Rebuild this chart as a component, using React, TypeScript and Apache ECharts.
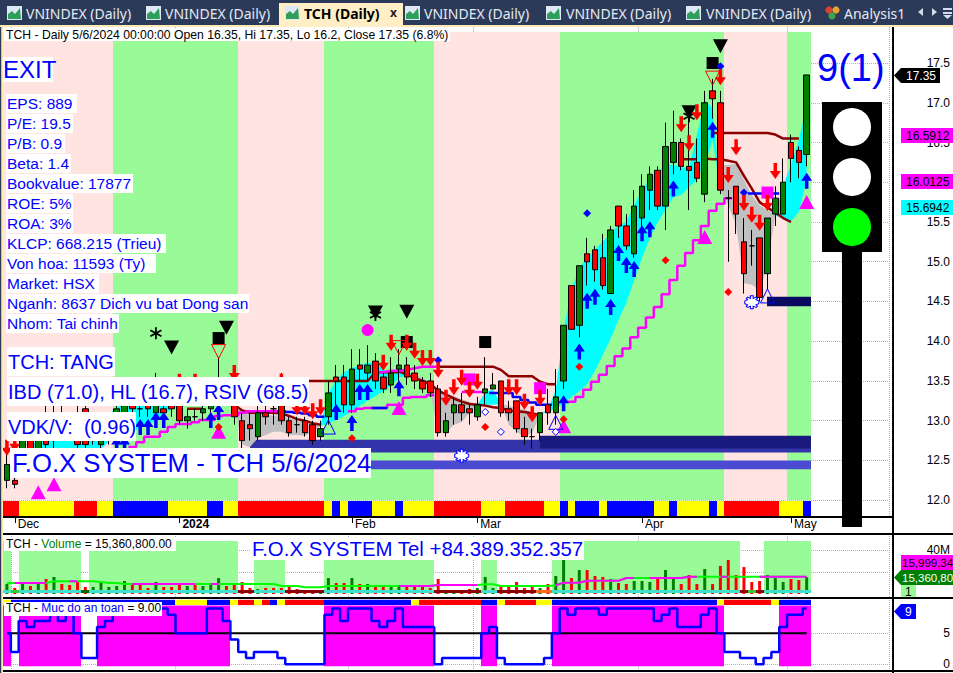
import React, { useEffect, useRef } from "react";
import * as echarts from "echarts";

// ---------- data ----------
const BAR_COUNT = 103;
const SLOT_COUNT = 113;
const categories = Array.from({ length: SLOT_COUNT }, (_, i) => String(i));
const monthTickIndex = [1, 22, 44, 60, 81, 100];
const monthTickLabels = ["Dec", "{b|2024}", "Feb", "Mar", "Apr", "May"];
const priceTicks = [12, 12.5, 13, 13.5, 14, 14.5, 15, 15.5, 16, 16.5, 17, 17.5];
const volumeTicks = [20, 40];
const safetyTicks = [0, 5];

// [open, close, low, high]
const candles = [
  [12.25, 12.45, 12.15, 12.6], [12.25, 12.2, 12.15, 12.3], [12.35, 12.75, 12.3, 12.85], [12.75, 12.6, 12.5, 12.85],
  [12.6, 12.75, 12.55, 12.9], [12.75, 12.7, 12.6, 13.2], [12.75, 12.9, 12.65, 13.2], [13.0, 12.9, 12.8, 13.2],
  [13.0, 12.9, 12.8, 13.1], [13.05, 12.7, 12.65, 13.2], [13.15, 12.7, 12.65, 13.2], [12.75, 12.8, 12.7, 12.95],
  [12.7, 12.85, 12.65, 13.0], [12.85, 13.0, 12.7, 13.1], [12.75, 13.15, 12.7, 13.2], [13.05, 13.2, 12.95, 13.3],
  [13.2, 13.15, 13.05, 13.3], [13.15, 13.15, 13.05, 13.25], [13.2, 13.15, 13.05, 13.3], [13.1, 13.2, 13.0, 13.6],
  [13.15, 13.1, 13.0, 13.3], [13.2, 13.15, 13.05, 13.3], [13.2, 13.0, 12.95, 13.35], [13.0, 13.05, 12.9, 13.15],
  [13.05, 13.05, 13.0, 13.15], [13.1, 13.15, 13.0, 13.25], [13.15, 13.2, 13.1, 13.35], [13.25, 13.3, 13.15, 13.8],
  [13.35, 13.3, 13.2, 13.55], [13.2, 13.05, 12.95, 13.4], [13.0, 12.75, 12.65, 13.1], [12.95, 12.9, 12.75, 13.1],
  [12.8, 13.1, 12.75, 13.25], [13.1, 13.05, 12.95, 13.2], [13.15, 13.15, 12.95, 13.2], [13.2, 13.0, 12.95, 13.6],
  [13.0, 12.85, 12.8, 13.05], [12.95, 12.95, 12.85, 13.05], [13.0, 12.85, 12.8, 13.05], [12.95, 12.75, 12.7, 13.0],
  [12.8, 12.9, 12.75, 13.0], [13.05, 13.35, 12.95, 13.5], [13.55, 13.5, 13.05, 13.7], [13.55, 13.2, 13.1, 13.7],
  [13.2, 13.65, 13.1, 13.9], [13.7, 13.65, 13.5, 13.9], [13.6, 13.7, 13.5, 13.95], [13.75, 13.5, 13.4, 13.85],
  [13.55, 13.4, 13.35, 13.6], [13.45, 13.6, 13.35, 13.8], [13.65, 13.7, 13.5, 13.9], [13.7, 13.55, 13.45, 13.8],
  [13.6, 13.5, 13.4, 13.7], [13.5, 13.4, 13.35, 13.55], [13.5, 13.35, 13.3, 13.6], [13.4, 12.85, 12.8, 13.45],
  [12.85, 13.0, 12.8, 13.1], [13.1, 13.2, 12.95, 13.3], [13.2, 13.1, 13.0, 13.35], [13.15, 13.1, 12.95, 13.2],
  [13.05, 13.2, 13.0, 13.3], [13.35, 13.4, 13.2, 13.8], [13.4, 13.45, 13.4, 13.6], [13.5, 13.1, 13.05, 13.5],
  [13.15, 13.1, 13.0, 13.25], [13.25, 12.9, 12.85, 13.25], [12.9, 12.8, 12.7, 13.05], [12.8, 12.8, 12.65, 12.9],
  [12.85, 13.1, 12.75, 13.1], [13.2, 13.1, 12.95, 13.4], [13.1, 13.3, 12.95, 13.65], [13.5, 14.2, 13.4, 14.2],
  [14.7, 14.15, 14.15, 14.7], [14.2, 14.95, 14.05, 14.95], [15.1, 15.0, 14.7, 15.3], [15.15, 14.9, 14.75, 15.2],
  [15.05, 14.7, 14.65, 15.35], [14.6, 15.4, 14.6, 15.45], [15.7, 15.45, 15.3, 15.7], [15.45, 15.2, 15.15, 15.6],
  [15.1, 15.7, 15.05, 15.9], [15.55, 15.95, 15.35, 16.1], [15.9, 16.1, 15.65, 16.2], [16.15, 15.7, 15.65, 16.2],
  [15.7, 16.45, 15.4, 16.75], [16.25, 16.5, 16.1, 16.9], [16.5, 16.2, 16.15, 16.55], [16.2, 16.15, 15.65, 16.85],
  [16.25, 16.05, 16.0, 16.55], [15.85, 17.0, 15.75, 17.15], [17.15, 17.05, 16.8, 17.3], [17.0, 15.9, 15.85, 17.15],
  [15.8, 15.8, 15.0, 15.9], [15.95, 15.6, 15.35, 15.95], [15.25, 14.85, 14.6, 15.55], [15.2, 15.2, 14.95, 15.4],
  [15.3, 14.55, 14.5, 15.3], [14.85, 15.55, 14.65, 15.55], [15.6, 15.8, 15.45, 15.95], [15.6, 16.0, 15.6, 16.3],
  [16.5, 16.3, 16.0, 16.6], [16.4, 16.25, 16.05, 16.45], [16.35, 17.35, 16.2, 17.35],
];

const volumeM = [
  9.1, 5.5, 10.9, 7.3, 9.1, 13.6, 15.5, 9.1, 8.2, 10.9, 6.4, 6.4, 10, 6.4, 7.3, 11.8, 9.1, 8.2, 5.5, 10.9,
  6.4, 6.4, 8.2, 7.3, 8.2, 7.3, 8.2, 14.5, 7.3, 10, 10.9, 5.5, 4.5, 5.5, 5.5, 5.5, 6.4, 4.5, 3.6, 3.6,
  2.7, 14.5, 10, 10, 14.5, 9.1, 9.1, 6.4, 6.4, 8.2, 8.2, 7.3, 6.4, 6.4, 5.5, 13.6, 3.6, 3.6, 3.6, 4.5,
  5.5, 15.5, 5.5, 8.2, 8.2, 10.9, 5.5, 6.4, 5.5, 9.1, 16.4, 31.8, 14.5, 21.8, 21.8, 16.4, 15.5, 13.6, 10, 9.1,
  11.8, 11.8, 10.9, 13.6, 21.8, 14.5, 9.1, 17.3, 9.1, 22.7, 9.1, 25.5, 30.9, 17.3, 24.5, 10.9, 11.8, 17.3, 14.5, 10.9,
  13.6, 12.7, 15.36,
];
const volumeAverage = [
  10, 10, 10, 10, 10, 10, 11.5, 11.5, 11.5, 11.5, 11.5, 11.5, 11, 10, 10, 9.1, 9.1, 9.1, 9.1, 9.1,
  9.1, 9.1, 9.1, 9.1, 9.1, 9.1, 9.1, 9.1, 9.1, 9.1, 9.1, 9.1, 9.1, 9.1, 9.1, 7.3, 7.3, 7.3, 6.1, 6.1,
  6.1, 7.3, 7.3, 7.3, 7.3, 7.3, 7.3, 7.3, 7.3, 7.3, 7.3, 7.3, 7.3, 7.3, 7.3, 8.2, 8.2, 8.2, 8.2, 8.2,
  8.2, 8.8, 8.8, 7.3, 7.3, 7.3, 7.3, 7.3, 7.3, 7.3, 8, 10.3, 10.3, 10.3, 12.1, 12.1, 12.1, 12.1, 12.1, 14.5,
  14.5, 14.5, 14.5, 14.5, 14.5, 14.5, 14.5, 15.7, 15.7, 15.7, 15.7, 15.7, 15.7, 15.7, 15.7, 15.7, 15.7, 15.7, 15.7, 15.7,
  15.7, 15.7, 15.7,
];
const volumeAverageMagentaSpans = [[1, 3], [4, 5], [8, 9], [16, 17], [18, 21], [22, 24], [26, 27], [50, 60], [70, 80], [82, 88], [91, 92], [96, 102]];

const safetyLevel = [
  5, 2, 7, 6, 7, 7, 8, 7, 8, 5, 1, 1, 6, 7, 8, 9, 9, 9, 9, 9,
  9, 8, 5, 5, 5, 5, 9, 9, 7, 4, 2, 1, 2, 2, 2, 1, 0, 0, 0, 0,
  0, 8, 9, 7, 9, 9, 9, 7, 6, 7, 9, 6, 6, 6, 6, 0, 1, 1, 1, 1,
  1, 5, 6, 1, 0, 0, 0, 0, 0, 1, 5, 9, 8, 9, 9, 9, 8, 9, 9, 9,
  9, 9, 9, 7, 8, 9, 6, 6, 6, 8, 9, 5, 2, 2, 1, 1, 0, 1, 2, 6,
  8, 8, 9,
];
const safetyMidline = Array.from({ length: BAR_COUNT }, () => 5);

// [first bar, last bar, state]: 0 rose, 1 green
const mainBands = [[0, 13, 0], [14, 29, 1], [30, 40, 0], [41, 54, 1], [55, 70, 0], [71, 91, 1], [92, 99, 0], [100, 102, 1]];
const ribbonStarts = [0, 2, 9, 12, 14, 21, 26, 28, 30, 41, 42, 43, 44, 47, 50, 51, 55, 61, 64, 69, 71, 72, 73, 76, 77, 83, 85, 86, 90, 91, 92, 99, 102];
const ribbonStates = "RYRYBYBYRYBYBYBYRYRYBYBYBYBYBYRYB";
const safetyRibbonStarts = [0, 1, 20, 22, 26, 29, 30, 32, 33, 34, 35, 36, 41, 52, 53, 61, 63, 64, 68, 70, 91, 92, 98, 99];
const safetyRibbonStates = "YBBYBYRYRBYRBYRBYRYBYRYB";
const volumeTallBands = [[0, 0], [2, 9], [11, 29], [70, 93], [97, 102]];
const volumeShortBands = [[32, 35], [41, 54], [61, 62]];
const safetyBands = [[0, 0], [2, 9], [12, 28], [41, 54], [61, 62], [70, 91], [99, 102]];
const volumeStripOff = [[1, 1, 0], [10, 10, 1], [30, 31, 2], [36, 40, 2], [55, 60, 2], [63, 67, 2], [68, 69, 3], [94, 94, 2], [95, 95, 0], [96, 96, 2]];

// [first bar, last bar, low, high]
const zoneMid = [31, 102, 12.6, 12.76];
const zoneDark = [68, 102, 12.65, 12.81];
const zoneLight = [31, 102, 12.39, 12.5];
const zoneUpper = [97, 102, 14.44, 14.56];

const cloud1Hi = [12.7, 12.76, 12.82, 12.88, 12.95, 13.01, 13.05, 13.07, 13.08, 13.09, 13.09, 13.16, 13.22, 13.22, 13.24, 13.22, 13.21, 13.2, 13.19, 13.17];
const cloud1Lo = [12.63, 12.63, 12.63, 12.63, 12.63, 12.63, 12.63, 12.63, 12.64, 12.64, 12.74, 12.78, 12.82, 12.86, 12.91, 12.96, 13.01, 13.07, 13.15, 13.17];
const cloud2Hi = [13.17, 13.11, 13.1, 13.09, 13.07, 13.07, 13.06, 13.03, 13.01, 13.0, 12.97, 12.95];
const cloud2Lo = [13.17, 12.7, 12.67, 12.78, 12.82, 12.86, 12.86, 12.82, 12.82, 12.81, 12.86, 12.93];
const cloud3Hi = [12.95, 13.35, 13.51, 13.61, 13.66, 13.7, 13.73, 13.73, 13.64, 13.61, 13.64, 13.61, 13.59];
const cloud3Lo = [12.93, 12.97, 13.01, 13.06, 13.12, 13.19, 13.25, 13.31, 13.37, 13.44, 13.54, 13.58, 13.59];
const cloud4Hi = [13.59, 13.54, 13.49, 13.4, 13.35, 13.31, 13.27, 13.24, 13.2];
const cloud4Lo = [13.59, 13.49, 13.36, 12.85, 12.85, 12.95, 12.98, 13.1, 13.2];
const cloud5Hi = [13.2, 13.36, 13.39, 13.21];
const cloud5Lo = [13.2, 13.2, 13.2, 13.21];
const cloud6Hi = [13.21, 13.19, 13.16, 13.14, 13.11, 13.08];
const cloud6Lo = [13.21, 12.95, 12.86, 12.8, 12.85, 13.08];
const cloud7Hi = [13.09, 13.14, 13.39, 14.14, 14.64, 14.92, 15.05, 15.15, 15.25, 15.36, 15.46, 15.5, 15.71, 15.9, 16.05, 16.13, 16.22, 16.22, 16.19, 16.18, 16.59, 17.03, 16.93, 15.9];
const cloud7Lo = [13.09, 13.11, 13.15, 13.22, 13.3, 13.37, 13.46, 13.63, 13.83, 14.03, 14.27, 14.48, 14.77, 15.05, 15.3, 15.5, 15.65, 15.81, 15.84, 15.94, 16.03, 16.24, 16.53, 15.9];
const cloud8Hi = [16.22, 16.22, 16.23, 16.03, 15.84, 15.71, 15.65, 15.59];
const cloud8Lo = [15.9, 15.71, 15.46, 14.73, 14.71, 14.64, 14.96, 15.59];
const cloud9Hi = [15.59, 15.96, 16.22, 16.53, 16.97];
const cloud9Lo = [15.58, 15.55, 15.51, 15.63, 16.03];
const cloudStarts = [3, 29, 40, 52, 60, 63, 68, 91, 98];
const cloudKinds = "CGCGCGCGC";
const cloudHighs = [cloud1Hi, cloud2Hi, cloud3Hi, cloud4Hi, cloud5Hi, cloud6Hi, cloud7Hi, cloud8Hi, cloud9Hi];
const cloudLows = [cloud1Lo, cloud2Lo, cloud3Lo, cloud4Lo, cloud5Lo, cloud6Lo, cloud7Lo, cloud8Lo, cloud9Lo];

// [start bar, values]
const darkUpperRuns: [number, number[]][] = [
  [23, [13.15, 13.15, 13.15]],
  [38, [13.5, 13.5, 13.5, 13.5, 13.5, 13.5, 13.5, 13.5, 13.5, 13.61, 13.61, 13.61, 13.61]],
  [55, [13.68, 13.68, 13.68, 13.68, 13.68, 13.68, 13.68, 13.68, 13.64, 13.56, 13.56, 13.56, 13.56, 13.49, 13.46, 13.46]],
  [86, [16.29, 16.29, 16.29]],
  [90, [16.62, 16.62, 16.62, 16.62, 16.62, 16.62, 16.62, 16.62, 16.6, 16.55, 16.55, 16.55]],
];
const darkLowerRuns: [number, number[]][] = [
  [29, [13.2, 13.13, 13.1, 13.1, 13.1, 13.1, 13.09, 13.06, 13.02, 13.0, 12.97, 12.95]],
  [50, [13.62, 13.58, 13.54, 13.5, 13.46, 13.38, 13.33, 13.28, 13.24, 13.21, 13.2, 13.19, 13.17, 13.16, 13.13, 13.12, 13.11, 13.09, 13.07]],
  [89, [16.3, 16.29, 16.29, 16.27, 16.25, 16.08, 15.92, 15.75, 15.68, 15.62, 15.55, 15.5]],
];
const magentaLowRuns: [number, number[]][] = [
  [16, [12.67, 12.73, 12.8, 12.8, 12.86, 12.92, 12.96, 12.96, 12.98, 13.01, 13.01, 13.06, 13.07, 13.07, 13.1, 13.12, 13.12, 13.12, 13.12, 13.12]],
  [44, [13.12, 13.15, 13.16, 13.16, 13.16, 13.2, 13.2, 13.29, 13.3, 13.3, 13.32]],
  [72, [13.24, 13.3, 13.39, 13.49, 13.58, 13.69, 13.81, 13.91, 14.05, 14.17, 14.3, 14.43, 14.59, 14.77, 14.95, 15.11, 15.27, 15.45, 15.64, 15.73, 15.8]],
];
const magentaHighRuns: [number, number[]][] = [
  [47, [13.61, 13.61, 13.63, 13.63, 13.64, 13.66, 13.68, 13.68, 13.68]],
  [58, [13.36, 13.36, 13.36, 13.36]],
];
const blueLineRuns: [number, number[]][] = [
  [35, [13.12, 13.11, 13.1, 13.09, 13.07, 13.05]],
  [47, [13.16, 13.16]],
  [62, [13.35, 13.35, 13.35, 13.3, 13.26, 13.23, 13.2, 13.2]],
  [95, [15.86, 15.86, 15.86, 15.86]],
];

const arrowsUp = [[14, 12.7], [15, 12.7], [17, 12.92], [18, 12.92], [19, 13.01], [20, 13.01], [26, 13.01], [27, 13.11], [42, 13.11], [44, 12.97], [45, 13.36], [46, 13.36], [50, 13.41], [71, 13.22], [73, 13.87], [74, 14.51], [75, 14.56], [77, 14.43], [78, 15.11], [79, 14.96], [80, 14.91], [81, 15.36], [82, 15.41], [85, 15.92], [90, 16.66], [102, 16.02]];
const arrowsDown = [[0, 12.66], [1, 12.71], [22, 13.49], [24, 13.49], [29, 13.6], [35, 13.49], [37, 13.17], [38, 13.17], [39, 13.12], [40, 13.17], [48, 13.73], [49, 13.98], [51, 13.98], [52, 13.88], [53, 13.79], [54, 13.79], [55, 13.64], [56, 13.29], [57, 13.42], [58, 13.54], [59, 13.39], [60, 13.49], [64, 13.42], [65, 13.42], [66, 13.24], [67, 13.08], [68, 13.29], [86, 16.73], [87, 16.49], [88, 16.88], [91, 17.32], [92, 16.09], [93, 16.44], [94, 15.74], [95, 15.59], [96, 15.49], [97, 15.74], [98, 16.14]];
const pinkTriangles = [[4, 12.1], [6, 12.2], [27, 12.86], [50, 13.16], [71, 12.93], [89, 15.31], [102, 15.75]];
const blackTriangles = [[21, 13.92], [28, 14.17], [47, 14.36], [51, 14.37], [91, 17.71], [87, 16.88]];
const blackSquares = [[27, 14.04], [51, 13.99], [61, 13.99], [90, 17.5]];
const blackStars = [[19, 14.1], [47, 14.33], [87, 16.83]];
const magentaSquares = [[59, 13.52], [68, 13.41], [97, 15.87]];
const magentaCircles = [[46, 14.14]];
const hollowBlueTriangles = [[41, 12.92], [70, 12.98], [97, 14.57]];
const hollowRedTriangles = [[27, 13.87], [50, 13.92], [90, 17.31]];
const snowflakes = [[95, 14.49], [58, 12.56]];
const blueDiamonds = [[74, 15.61], [91, 17.46], [94, 15.87], [55, 13.76]];
const redDiamonds = [[84, 15.02], [92, 14.62], [73, 13.68], [71, 13.02], [61, 12.92], [44, 12.78], [27, 12.92]];
const hollowBlueDiamonds = [[61, 13.11], [63, 12.86], [70, 12.86]];

// ---------- scales of the three panes ----------
const PRICE_MIN = 11.789;
const PRICE_MAX = 17.953;
const BAND_TOP = 17.89;
const BAND_BOTTOM = 12.0;
const RIBBON_TOP = 11.99;
const RIBBON_BOTTOM = 11.8;

const SANS = "'Liberation Sans', Arial, sans-serif";
const TAB_FONT = "'Noto Sans', sans-serif";
const BLUE = "#0000ff";
const STATE_COLOR: Record<string, string> = { R: "#ff0000", Y: "#ffff00", B: "#0000ff" };

const ARROW_UP = "path://M5 0 L10 8 L6.6 8 L6.6 16 L3.4 16 L3.4 8 L0 8 Z";
const ARROW_DOWN = "path://M3.4 0 L6.6 0 L6.6 8 L10 8 L5 16 L0 8 L3.4 8 Z";
const TRI_DOWN = "path://M0 0 L10 0 L5 10 Z";
const STAR = "path://M4.3 0 L5.7 0 L5.7 3.8 L9 1.9 L9.7 3.1 L6.4 5 L9.7 6.9 L9 8.1 L5.7 6.2 L5.7 10 L4.3 10 L4.3 6.2 L1 8.1 L0.3 6.9 L3.6 5 L0.3 3.1 L1 1.9 L4.3 3.8 Z";
const SNOW = "path://M4 0 L6 0 L6 2 L8 1 L9 2 L8 3 L10 4 L10 6 L8 7 L9 8 L8 9 L6 8 L6 10 L4 10 L4 8 L2 9 L1 8 L2 7 L0 6 L0 4 L2 3 L1 2 L2 1 L4 2 Z";

function fromRuns(runs: [number, number[]][]) {
  const out: (number | null)[] = Array(BAR_COUNT).fill(null);
  runs.forEach(([start, values]) => values.forEach((v, k) => { out[start + k] = v; }));
  return out;
}
function runsFromStarts(starts: number[], states: string) {
  return starts.map((s, i) => ({ start: s, end: (i + 1 < starts.length ? starts[i + 1] : BAR_COUNT) - 1, color: STATE_COLOR[states[i]] }));
}

type Span = { start: number; end: number; low: number; high: number; color: string; fromCenter?: boolean };

function spanSeries(pane: number, spans: Span[], z: number) {
  return {
    type: "custom",
    xAxisIndex: pane,
    yAxisIndex: pane,
    z,
    silent: true,
    clip: false,
    encode: { x: 0, y: 1 },
    data: spans.map((s) => [s.start, s.high]),
    renderItem: (params: any, api: any) => {
      const s = spans[params.dataIndex];
      const half = api.size([1, 0])[0] / 2;
      const a = api.coord([s.start, s.high]);
      const b = api.coord([s.end, s.low]);
      const x0 = Math.round(s.fromCenter ? a[0] : a[0] - half);
      const x1 = Math.round(b[0] + half);
      return { type: "rect", shape: { x: x0, y: a[1], width: x1 - x0, height: b[1] - a[1] }, style: { fill: s.color } };
    },
  };
}

function cloudSeries() {
  return {
    type: "custom",
    xAxisIndex: 0,
    yAxisIndex: 0,
    z: 3,
    silent: true,
    encode: { x: 0, y: 1 },
    data: cloudStarts.map((s, i) => [s, cloudHighs[i][0]]),
    renderItem: (params: any, api: any) => {
      const i = params.dataIndex;
      const start = cloudStarts[i];
      const top = cloudHighs[i].map((v, k) => api.coord([start + k, v]));
      const bottom = cloudLows[i].map((v, k) => api.coord([start + k, v])).reverse();
      return { type: "polygon", shape: { points: top.concat(bottom) }, style: { fill: cloudKinds[i] === "C" ? "#00ffff" : "#c0c0c0" } };
    },
  };
}

function lineSeries(data: any[], color: string, width: number, z: number, pane = 0, step: any = false) {
  return { type: "line", xAxisIndex: pane, yAxisIndex: pane, data, z, step, symbol: "none", silent: true, connectNulls: false, lineStyle: { color, width }, itemStyle: { color } };
}

function marks(data: number[][], symbol: string, size: any, itemStyle: any, z = 7) {
  return { type: "scatter", xAxisIndex: 0, yAxisIndex: 0, data, symbol, symbolSize: size, itemStyle: { opacity: 1, ...itemStyle }, z, silent: true };
}

// ---------- overlays ----------
const tabsPlain = [
  { icon: 7, text: 26, label: "VNINDEX (Daily)" },
  { icon: 146, text: 165, label: "VNINDEX (Daily)" },
  { icon: 405, text: 424, label: "VNINDEX (Daily)" },
  { icon: 546, text: 566, label: "VNINDEX (Daily)" },
  { icon: 686, text: 706, label: "VNINDEX (Daily)" },
];
const fundamentals = ["EPS: 889", "P/E: 19.5", "P/B: 0.9", "Beta: 1.4", "Bookvalue: 17877", "ROE: 5%", "ROA: 3%", "KLCP: 668.215 (Trieu)", "Von hoa: 11593 (Ty)", "Market: HSX", "Nganh: 8637 Dich vu bat Dong san", "Nhom: Tai chinh"];
const fundamentalWidths = [71, 67, 59, 65, 127, 67, 67, 160, 150, 93, 243, 113];

function rect(x: number, y: number, w: number, h: number, fill: string, z = 100) {
  return { type: "rect", z, shape: { x, y, width: w, height: h }, style: { fill } };
}
function text(t: string, x: number, y: number, size: number, fill = "#000", opts: any = {}) {
  return { type: "text", z: opts.z || 101, x, y, style: { text: t, fill, font: `${opts.bold ? "bold " : ""}${size}px ${opts.family || SANS}`, textVerticalAlign: "middle", verticalAlign: "middle", textAlign: opts.align || "left", align: opts.align || "left", rich: opts.rich } };
}
function boxText(t: string, x: number, y: number, w: number, h: number, size: number, inset = 1) {
  return [rect(x, y, w, h, "#ffffff"), text(t, x + inset, y + h / 2, size, BLUE)];
}
function tag(x: number, y: number, w: number, h: number, fill: string) {
  return { type: "polygon", z: 100, shape: { points: [[x, y + h / 2], [x + 7, y], [x + w, y], [x + w, y + h], [x + 7, y + h]] }, style: { fill } };
}
function line(x1: number, y1: number, x2: number, y2: number, stroke = "#000", lineWidth = 2, z = 99) {
  return { type: "line", z, shape: { x1, y1, x2, y2 }, style: { stroke, lineWidth } };
}
function tabIcon(x: number) {
  return [
    rect(x, 6, 15, 14, "#dfe8f5"),
    { type: "polygon", z: 101, shape: { points: [[x + 1, 19], [x + 1, 14], [x + 5, 11], [x + 8, 14], [x + 13, 8], [x + 14, 19]] }, style: { fill: "#2f9e5a" } },
  ];
}

function overlays() {
  const els: any[] = [];
  // tab strip
  els.push(rect(0, 0, 953, 25, "#2c3a59"));
  els.push(rect(0, 25, 953, 2, "#ffe9b5"));
  tabsPlain.forEach((t) => { els.push(...tabIcon(t.icon)); els.push(text(t.label, t.text, 13, 14, "#e4e9f2", { family: TAB_FONT })); });
  els.push(rect(279, 3, 124, 24, "#ffeec6"));
  els.push(...tabIcon(285));
  els.push(text("TCH (Daily)", 304, 13, 14, "#000", { family: TAB_FONT, bold: true }));
  els.push(text("x", 390, 12, 12, "#222", { family: TAB_FONT, bold: true }));
  els.push({ type: "circle", z: 101, shape: { cx: 829, cy: 10, r: 3.6 }, style: { fill: "#d8432f" } });
  els.push({ type: "circle", z: 101, shape: { cx: 836, cy: 10, r: 3.6 }, style: { fill: "#e7a32a" } });
  els.push({ type: "circle", z: 101, shape: { cx: 832, cy: 16, r: 3.6 }, style: { fill: "#3fa34d" } });
  els.push(text("Analysis1", 844, 13, 14, "#e4e9f2", { family: TAB_FONT }));
  els.push({ type: "polygon", z: 101, shape: { points: [[918, 12], [923, 8], [923, 16]] }, style: { fill: "#d5dbe8" } });
  els.push({ type: "polygon", z: 101, shape: { points: [[937, 12], [932, 8], [932, 16]] }, style: { fill: "#d5dbe8" } });
  els.push(rect(943, 8, 9, 2, "#d5dbe8"), rect(943, 12, 9, 2, "#d5dbe8"));
  els.push({ type: "polygon", z: 101, shape: { points: [[943, 15], [952, 15], [947.5, 19]] }, style: { fill: "#d5dbe8" } });
  els.push(rect(0, 25, 1.5, 648, "#2c3a59", 99), rect(1.5, 27, 1.5, 646, "#ffe9b5", 99));

  // pane rules
  els.push(line(3, 517, 893, 517), line(3, 534, 953, 534), line(3, 598, 953, 598), line(3, 671, 953, 671));
  els.push(line(893, 27, 893, 673));

  // main title
  els.push(rect(4, 28, 446, 13, "#ffffff"));
  els.push(text("TCH - Daily 5/6/2024 00:00:00 Open 16.35, Hi 17.35, Lo 16.2, Close 17.35 (6.8%)", 6, 34.5, 12.2));

  // text boxes
  els.push(...boxText("EXIT", 3, 57, 50, 25, 24, 0));
  fundamentals.forEach((t, i) => els.push(...boxText(t, 6, 94 + i * 20, fundamentalWidths[i], 19, 15.5)));
  els.push(...boxText("TCH: TANG", 7, 347, 108, 29, 20));
  els.push(...boxText("IBD (71.0), HL (16.7), RSIV (68.5)", 7, 377, 302, 29, 20));
  els.push(...boxText("VDK/V:  (0.96)", 7, 412, 129, 29, 20));
  els.push(...boxText("F.O.X SYSTEM - TCH 5/6/2024", 10, 448, 361, 30, 25.7, 2));
  els.push(...boxText("F.O.X SYSTEM Tel +84.389.352.357", 250, 537, 334, 23, 20.4, 2));

  // traffic light
  els.push(text("9(1)", 817, 68, 38, BLUE));
  els.push(rect(842, 240, 20, 287, "#000000"), rect(822, 102, 60, 150, "#000000"));
  els.push({ type: "circle", z: 101, shape: { cx: 852, cy: 127, r: 19 }, style: { fill: "#ffffff" } });
  els.push({ type: "circle", z: 101, shape: { cx: 852, cy: 177, r: 19 }, style: { fill: "#ffffff" } });
  els.push({ type: "circle", z: 101, shape: { cx: 852, cy: 227, r: 19 }, style: { fill: "#00ff00" } });

  // price tags
  els.push(tag(894, 68, 46, 15, "#000000"), text("17.35", 906, 76, 12, "#ffffff"));
  els.push(rect(901, 128, 52, 15, "#ff00ff"), text("16.5912", 906, 136, 12));
  els.push(rect(901, 174, 52, 15, "#ff00ff"), text("16.0125", 906, 182, 12));
  els.push(rect(901, 200, 52, 15, "#00ffff"), text("15.6942", 906, 208, 12));

  // volume pane
  els.push(rect(4, 537, 172, 14, "#ffffff"));
  els.push(text("{k|TCH - }{g|Volume}{k| = 15,360,800.00}", 6, 544, 12, "#000", { rich: { k: { fill: "#000", font: `12px ${SANS}` }, g: { fill: "#008000", font: `12px ${SANS}` } } }));
  els.push(rect(901, 555, 52, 15, "#ff00ff"), text("15,999,34", 902, 563, 11.5));
  els.push(tag(894, 570, 59, 15, "#008000"), text("15,360,80", 902, 578, 11.5, "#ffffff"));
  els.push(rect(901, 585, 15, 12, "#98fb98"), text("1", 905, 592, 12));

  // safety pane
  els.push(rect(4, 602, 158, 14, "#ffffff"));
  els.push(text("{k|TCH - }{g|Muc do an toan}{k| = 9.00}", 6, 608, 12, "#000", { rich: { k: { fill: "#000", font: `12px ${SANS}` }, g: { fill: "#0000ff", font: `12px ${SANS}` } } }));
  els.push(tag(894, 604, 22, 15, "#0000ff"), text("9", 905, 612, 12, "#ffffff"));
  return els;
}

const priceSpans = (list: number[][]): Span[] => list.map(([start, end, state]) => ({ start, end, low: BAND_BOTTOM, high: BAND_TOP, color: state ? "#98fb98" : "#ffe4e1" }));

export default function App() {
  const ref = useRef<HTMLDivElement>(null);
  useEffect(() => {
    const chart = echarts.init(ref.current!, undefined, { renderer: "svg" });

    const isMonth = (i: number) => monthTickIndex.includes(i);
    const grids = [
      { left: 3, width: 886, top: 27, height: 490 },
      { left: 3, width: 886, top: 534, height: 64 },
      { left: 3, width: 886, top: 598, height: 74 },
    ];
    const xAxis = grids.map((_, p) => ({
      type: "category",
      gridIndex: p,
      data: categories,
      boundaryGap: true,
      axisLine: { show: false },
      axisTick: { show: p === 0, alignWithLabel: true, interval: isMonth, length: 6, lineStyle: { color: "#000" } },
      axisLabel: p === 0
        ? {
            show: true,
            interval: isMonth,
            hideOverlap: false,
            align: "left",
            margin: 1,
            padding: [0, 0, 0, 3],
            fontFamily: SANS,
            fontSize: 12,
            color: "#000",
            formatter: (_: string, i: number) => monthTickLabels[monthTickIndex.indexOf(i)] || "",
            rich: { b: { fontWeight: "bold", fontFamily: SANS, fontSize: 12, color: "#000" } },
          }
        : { show: false },
      splitLine: { show: true, interval: isMonth, lineStyle: { color: "#b0b0b0", type: "dotted" } },
    }));

    const splitLine = { show: true, lineStyle: { color: "#b0b0b0", type: "dotted" } };
    const axisFont = { fontFamily: SANS, fontSize: 12, color: "#000", align: "right", margin: 57 };
    const yAxis = [
      {
        type: "value", gridIndex: 0, position: "right", offset: 4, min: PRICE_MIN, max: PRICE_MAX,
        axisLine: { show: false }, axisTick: { show: false, customValues: priceTicks }, splitLine,
        axisLabel: { ...axisFont, customValues: priceTicks, formatter: (v: number) => v.toFixed(1) },
      },
      {
        type: "value", gridIndex: 1, position: "right", offset: 4, min: -3.64, max: 54.55,
        axisLine: { show: false }, axisTick: { show: false, customValues: volumeTicks }, splitLine,
        axisLabel: { ...axisFont, customValues: [40], formatter: (v: number) => `${v}M` },
      },
      {
        type: "value", gridIndex: 2, position: "right", offset: 4, min: -1.24, max: 10.69,
        axisLine: { show: false }, axisTick: { show: false, customValues: safetyTicks }, splitLine,
        axisLabel: { ...axisFont, customValues: safetyTicks, formatter: (v: number) => String(v) },
      },
    ];

    const volumeBars = volumeM.map((v, i) => ({
      value: v,
      itemStyle: { color: candles[i][1] > candles[i][0] ? "#008000" : "#ff0000" },
    }));
    const volumeMagenta: (number | null)[] = volumeAverage.map((v, i) => (volumeAverageMagentaSpans.some(([a, b]) => i >= a && i <= b) ? v : null));

    const stripColors = ["#32cd32", "#006400", "#8b0000", "#ff6a1a"];
    const series: any[] = [
      // main pane
      spanSeries(0, priceSpans(mainBands), 1),
      spanSeries(0, runsFromStarts(ribbonStarts, ribbonStates).map((r) => ({ ...r, low: RIBBON_BOTTOM, high: RIBBON_TOP })), 2),
      spanSeries(0, [zoneMid, zoneLight, zoneDark, zoneUpper].map(([start, end, low, high], i) => ({ start, end, low, high, fromCenter: true, color: ["#3333aa", "#4a4ad2", "#1a1a7e", "#0a0a60"][i] })), 2),
      cloudSeries(),
      lineSeries(fromRuns(darkUpperRuns), "#8b0000", 2.5, 4),
      lineSeries(fromRuns(darkLowerRuns), "#8b0000", 2.5, 4),
      lineSeries(fromRuns(magentaLowRuns), "#ff00ff", 2.5, 4, 0, "middle"),
      lineSeries(fromRuns(magentaHighRuns), "#ff00ff", 2.5, 4),
      lineSeries(fromRuns(blueLineRuns), "#0000ff", 2.5, 4, 0, "middle"),
      {
        type: "candlestick", xAxisIndex: 0, yAxisIndex: 0, data: candles, z: 5, barWidth: 6, silent: true,
        itemStyle: { color: "#008000", color0: "#ff0000", borderColor: "#000", borderColor0: "#000", borderColorDoji: "#000", borderWidth: 1 },
      },
      marks(pinkTriangles, "triangle", [15, 14], { color: "#ff00ff" }),
      marks(magentaSquares, "rect", 12, { color: "#ff00ff" }),
      marks(magentaCircles, "circle", 12, { color: "#ff00ff" }),
      marks(blackSquares, "rect", 12, { color: "#000" }),
      marks(blackTriangles, TRI_DOWN, [15, 14], { color: "#000" }),
      marks(blackStars, STAR, 12, { color: "#000" }),
      marks(hollowBlueTriangles, "triangle", [14, 14], { color: "transparent", borderColor: "#0000ff", borderWidth: 1 }),
      marks(hollowRedTriangles, TRI_DOWN, [14, 14], { color: "transparent", borderColor: "#ff0000", borderWidth: 1 }),
      marks(snowflakes, SNOW, [14, 13], { color: "#ffffff", borderColor: "#0000ff", borderWidth: 1 }),
      marks(blueDiamonds, "diamond", 8, { color: "#0000ff" }),
      marks(redDiamonds, "diamond", 8, { color: "#ff0000" }),
      marks(hollowBlueDiamonds, "diamond", 7, { color: "#ffffff", borderColor: "#0000ff", borderWidth: 1 }),
      marks(arrowsUp, ARROW_UP, [11, 16], { color: "#0000ff" }, 8),
      marks(arrowsDown, ARROW_DOWN, [11, 16], { color: "#ff0000" }, 8),

      // volume pane
      spanSeries(1, [
        ...volumeTallBands.map(([start, end]) => ({ start, end, low: 0.9, high: 48.2, color: "#98fb98" })),
        ...volumeShortBands.map(([start, end]) => ({ start, end, low: 0.9, high: 31.8, color: "#98fb98" })),
      ], 1),
      { type: "bar", xAxisIndex: 1, yAxisIndex: 1, data: volumeBars, barWidth: 3, z: 3, silent: true },
      spanSeries(1, [
        ...volumeTallBands.map(([start, end]) => ({ start, end, low: 0.9, high: 3.6, color: "#40e0d0" })),
        ...volumeShortBands.map(([start, end]) => ({ start, end, low: 0.9, high: 3.6, color: "#40e0d0" })),
        ...volumeStripOff.map(([start, end, c]) => ({ start, end, low: 0.9, high: 3.6, color: stripColors[c] })),
      ], 4),
      lineSeries(volumeAverage, "#00ff00", 2, 5, 1),
      lineSeries(volumeMagenta, "#ff00ff", 2, 6, 1),

      // safety pane
      spanSeries(2, safetyBands.map(([start, end]) => ({ start, end, low: -0.3, high: 9.5, color: "#ff00ff" })), 1),
      spanSeries(2, runsFromStarts(safetyRibbonStarts, safetyRibbonStates).map((r) => ({ ...r, low: 9.55, high: 10.4 })), 2),
      lineSeries(safetyMidline, "#000000", 2, 3, 2),
      lineSeries(safetyLevel, "#0000ff", 2.5, 4, 2, "middle"),
    ];

    chart.setOption({
      animation: false,
      backgroundColor: "#ffffff",
      grid: grids,
      xAxis,
      yAxis,
      series,
      graphic: { elements: overlays() },
    });
    return () => chart.dispose();
  }, []);
  return <div ref={ref} style={{ position: "absolute", left: 0, top: 0, width: 953, height: 673 }} />;
}
